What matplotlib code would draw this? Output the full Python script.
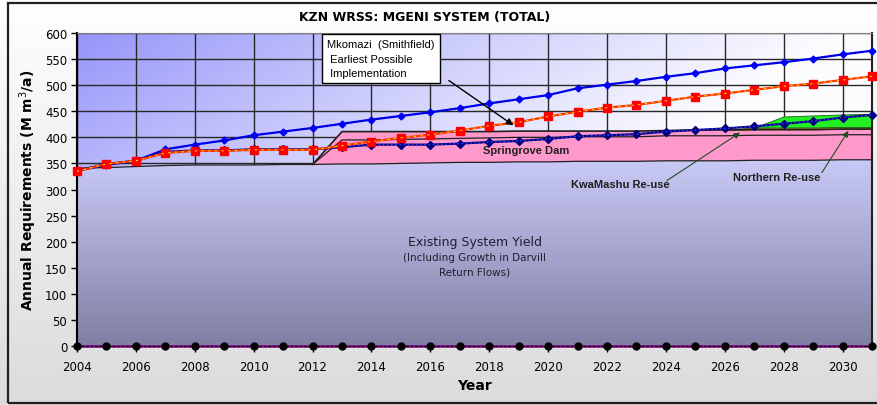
#!/usr/bin/env python3
"""KZN WRSS : bilan Mgeni (total) - besoins annuels et ressources"""

import numpy as np
import matplotlib
matplotlib.use("Agg")
import matplotlib.pyplot as plt
from matplotlib.patches import Polygon, Rectangle

# --- donnees ---
annees = list(range(2004, 2032))

# aires empilees (ressources)
existant = [341, 342, 344, 346, 347, 347, 347, 348, 348, 349, 349, 350, 351, 352,
            352, 353, 353, 354, 354, 354, 355, 355, 355, 356, 356, 356, 357, 357]
springrove = [0, 0, 0, 0, 0, 0, 0, 0, 0, 46, 46, 46, 46, 46,
              47, 47, 47, 47, 47, 47, 48, 48, 48, 48, 48, 48, 48, 48]
rose_sup = [0, 0, 0, 0, 0, 0, 0, 0, 0, 16, 16, 15, 14, 13,
            12, 12, 12, 11, 11, 11, 10, 11, 11, 11, 11, 11, 11, 11]
kwamashu = [0] * 23 + [4, 4, 4, 4, 4]
nord = [0] * 24 + [21, 23, 24, 25]

# courbes de besoins
besoin_haut = [336, 347, 355, 377, 386, 394, 404, 411, 418, 426, 434, 441, 448, 456,
               465, 473, 481, 494, 501, 508, 516, 523, 532, 538, 544, 551, 559, 566]
besoin_moyen = [335, 349, 355, 370, 374, 374, 376, 376, 376, 384, 392, 399, 405, 413,
                422, 429, 440, 449, 457, 462, 470, 478, 484, 491, 498, 503, 510, 517]
besoin_bas = [336, 349, 355, 372, 375, 375, 377, 377, 377, 381, 386, 386, 386, 388,
              391, 393, 397, 402, 404, 406, 411, 414, 417, 421, 426, 431, 438, 443]
zero = [0] * 28

x_ticks = list(range(2004, 2031, 2))
y_ticks = list(range(0, 601, 50))

W, H = 878, 406
fig = plt.figure(figsize=(W / 100, H / 100), dpi=100)

# fond de la figure (degrade gris) + cadre
fond = fig.add_axes([0, 0, 1, 1], zorder=-10)
fond.axis("off")
g = np.linspace(1.0, 0.86, 256)[:, None]
g_img = np.dstack([g, g, g])
fond.imshow(g_img, extent=[0, 1, 0, 1], aspect="auto")
fond.add_patch(Rectangle((8 / W, 2 / H), 1.2, 400 / H, fill=False, ec="#202020", lw=1.6,
                         transform=fond.transAxes))
fond.set_xlim(0, 1)
fond.set_ylim(0, 1)

ax = fig.add_axes([77 / W, 1 - 347 / H, (872 - 77) / W, (347 - 34) / H])
ax.patch.set_visible(False)

# degrade diagonal de la zone de trace
nx, ny = 300, 200
xx, yy = np.meshgrid(np.linspace(0, 1, nx), np.linspace(1, 0, ny))
s = np.clip((0.62 * xx + 0.38 * (1 - yy)) / 0.6, 0, 1) ** 0.9
c0 = np.array([0.58, 0.58, 0.98])
c1 = np.array([0.99, 0.99, 1.0])
bg = c0[None, None, :] * (1 - s[..., None]) + c1[None, None, :] * s[..., None]
ax.imshow(bg, extent=[2004, 2031, 0, 600], aspect="auto", zorder=0)

# aire "existant" avec degrade vertical
v = np.linspace(0, 1, 256)[:, None]
ctop = np.array([0.79, 0.79, 0.97])
cbot = np.array([0.50, 0.50, 0.64])
ex_img = ctop[None, None, :] * (1 - v[..., None]) + cbot[None, None, :] * v[..., None]
ex_img = np.repeat(ex_img, 4, axis=1)
im = ax.imshow(ex_img, extent=[2004, 2031, 0, max(existant)], aspect="auto", zorder=2)
verts = [(annees[0], 0)] + list(zip(annees, existant)) + [(annees[-1], 0)]
poly = Polygon(verts, closed=True, fc="none", ec="none", transform=ax.transData)
ax.add_patch(poly)
im.set_clip_path(poly)

ex = np.array(existant, dtype=float)
y1 = ex + np.array(springrove)
y2 = y1 + np.array(rose_sup)
y3 = y2 + np.array(kwamashu)
y4 = y3 + np.array(nord)

ax.plot(annees, ex, color="#202020", lw=0.9, zorder=3)
ax.fill_between(annees[8:], ex[8:], y2[8:], facecolor="#ff99cc", edgecolor="none", zorder=2)
ax.plot(annees[8:], y1[8:], color="#202020", lw=0.9, zorder=3)
ax.plot(annees[8:], y2[8:], color="#202020", lw=1.2, zorder=3)
ax.fill_between(annees[22:], y2[22:], y3[22:], facecolor="#d8c400", edgecolor="#404000",
                lw=0.6, zorder=2)
ax.fill_between(annees[23:], y3[23:], y4[23:], facecolor="#22ee22", edgecolor="#206020",
                lw=0.6, zorder=2)

# courbes de besoins
ax.plot(annees, besoin_haut, color="#0000ff", lw=1.6, marker="D", ms=3.5, mfc="#0000ff",
        mec="#0000ff", zorder=5, clip_on=False)
ax.plot(annees, besoin_haut, color="#0000a0", lw=1.0, ls=(0, (1, 2)), zorder=5, clip_on=False)

ax.plot(annees, besoin_bas, color="#000080", lw=1.6, marker="D", ms=4.5, mfc="#000080",
        mec="#000080", zorder=6, clip_on=False)
ax.plot(annees, besoin_bas, color="#4040ff", lw=1.0, ls=(0, (1, 2)), zorder=6, clip_on=False)

ax.plot(annees, besoin_moyen, color="#ff3300", lw=1.6, marker="s", ms=6, mfc="#ff0000",
        mec="#ff0000", zorder=7, clip_on=False)
ax.plot(annees, besoin_moyen, color="#ffdd00", lw=0.8, ls=(0, (2, 4)), zorder=7, clip_on=False)

ax.plot(annees, zero, color="#800080", lw=1.8, zorder=8, clip_on=False)
ax.plot(annees, zero, color="black", lw=0.8, ls=(0, (2, 2)), marker="o", ms=5,
        mfc="black", mec="black", zorder=9, clip_on=False)

# axes
ax.set_xlim(2004, 2031)
ax.set_ylim(0, 600)
ax.set_xticks(x_ticks)
ax.set_yticks(y_ticks)
ax.grid(True, color="#282828", lw=1.0)
ax.set_axisbelow(True)
for gl in ax.get_xgridlines() + ax.get_ygridlines():
    gl.set_zorder(1)
ax.tick_params(axis="both", labelsize=8.5, length=4, width=1, color="black", pad=3)
ax.tick_params(axis="x", pad=6)
ax.spines["left"].set_linewidth(1.5)
ax.spines["left"].set_color("black")
ax.spines["bottom"].set_color("black")
ax.spines["top"].set_color("#808080")
ax.spines["right"].set_color("#202020")
ax.spines["right"].set_linewidth(1.5)

ax.set_ylabel("Annual Requirements (M m$^3$/a)", fontsize=10, fontweight="bold", labelpad=4)
ax.set_xlabel("Year", fontsize=10, fontweight="bold", labelpad=4)

fig.text(425 / W, 1 - 17 / H, "KZN WRSS: MGENI SYSTEM (TOTAL)", ha="center", va="center",
         fontsize=9, fontweight="bold", family=["Liberation Sans Narrow", "DejaVu Sans"])

# annotations
police = ["Liberation Sans", "DejaVu Sans"]
ax.text(2012.5, 588, "Mkomazi  (Smithfield)\n Earliest Possible\n Implementation",
        ha="left", va="top", fontsize=8, family=police, linespacing=1.55, zorder=10,
        bbox=dict(boxstyle="square,pad=0.45", fc="white", ec="black", lw=1))
ax.annotate("", xy=(2018.9, 420), xytext=(2016.55, 512),
            arrowprops=dict(arrowstyle="-|>", color="black", lw=1, mutation_scale=10),
            zorder=10)

ax.text(2019.25, 376, "Springrove Dam", ha="center", va="center", fontsize=8,
        fontweight="bold", family=police, color="#202020", zorder=10)
ax.text(2022.45, 311, "KwaMashu Re-use", ha="center", va="center", fontsize=8,
        fontweight="bold", family=police, color="#202020", zorder=10)
ax.annotate("", xy=(2026.6, 412), xytext=(2023.95, 314),
            arrowprops=dict(arrowstyle="-|>", color="#1f4f1f", lw=0.8, mutation_scale=9),
            zorder=10)
ax.text(2027.75, 324, "Northern Re-use", ha="center", va="center", fontsize=8,
        fontweight="bold", family=police, color="#202020", zorder=10)
ax.annotate("", xy=(2030.25, 417), xytext=(2029.25, 328),
            arrowprops=dict(arrowstyle="-|>", color="#1f4f1f", lw=0.8, mutation_scale=9),
            zorder=10)

ax.text(2017.5, 201, "Existing System Yield", ha="center", va="center", fontsize=9,
        color="#202030", zorder=10)
ax.text(2017.5, 171, "(Including Growth in Darvill", ha="center", va="center",
        fontsize=7.5, color="#202030", zorder=10)
ax.text(2017.5, 142, "Return Flows)", ha="center", va="center",
        fontsize=7.5, color="#202030", zorder=10)

fig.savefig("out.png", dpi=100)
